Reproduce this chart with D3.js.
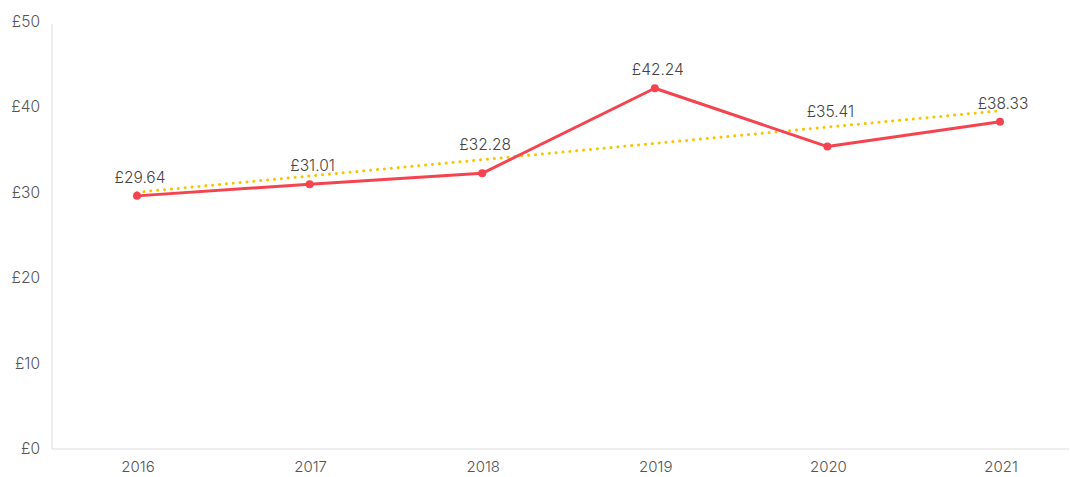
<!DOCTYPE html>
<html>
<head>
<meta charset="utf-8">
<script src="https://cdn.jsdelivr.net/npm/d3@7"></script>
<style>
	body { margin: 0; background: #fff; }
	text { font-family: Inter, "Open Sans", sans-serif; font-weight: 300; }
</style>
</head>
<body>
<div id="chart"></div>
<script>
// Data
const years = ["2016", "2017", "2018", "2019", "2020", "2021"];
const prices = [29.64, 31.01, 32.28, 42.24, 35.41, 38.33];
const trendEnds = [30.06, 39.58]; // trend line read at 2016 and 2021
const yTicks = [0, 10, 20, 30, 40, 50];

const width = 1070,
			height = 477;

const svg = d3.select("#chart").append("svg")
		.attr("width", width)
		.attr("height", height);

const x = d3.scalePoint()
		.domain(years)
		.range([137, 1000]);

const y = d3.scaleLinear()
		.domain([0, 50])
		.range([449, 22]);

// Axes
svg.append("line")
		.attr("x1", 52).attr("x2", 52)
		.attr("y1", y(50) + 2).attr("y2", y(0))
		.attr("stroke", "#ddd");
svg.append("line")
		.attr("x1", 52).attr("x2", 1069)
		.attr("y1", y(0)).attr("y2", y(0))
		.attr("stroke", "#ddd");

svg.append("g")
	.selectAll("text")
	.data(yTicks)
	.enter().append("text")
		.attr("x", 40)
		.attr("y", d => y(d) + 5)
		.attr("text-anchor", "end")
		.attr("fill", "#555")
		.style("font-size", "15.5px")
		.text(d => "£" + d);

svg.append("g")
	.selectAll("text")
	.data(years)
	.enter().append("text")
		.attr("x", d => x(d) + 1)
		.attr("y", 472)
		.attr("text-anchor", "middle")
		.attr("fill", "#555")
		.style("font-size", "15px")
		.text(d => d);

// Trend line
const trendAt = i => trendEnds[0] + (trendEnds[1] - trendEnds[0]) * i / (years.length - 1);
svg.append("line")
		.attr("x1", x(years[0]))
		.attr("y1", y(trendEnds[0]))
		.attr("x2", x(years[years.length - 1]) - 2)
		.attr("y2", y(trendEnds[1]))
		.attr("stroke", "#F7C600")
		.attr("stroke-width", 3)
		.attr("stroke-linecap", "round")
		.attr("stroke-dasharray", "0.1 6.8");

// Price line
const line = d3.line()
		.x((d, i) => x(years[i]))
		.y(d => y(d));

svg.append("path")
		.datum(prices)
		.attr("d", line)
		.attr("fill", "none")
		.attr("stroke", "#F4444F")
		.attr("stroke-width", 3)
		.attr("stroke-linejoin", "round");

svg.append("g")
	.selectAll("circle")
	.data(prices)
	.enter().append("circle")
		.attr("cx", (d, i) => x(years[i]))
		.attr("cy", d => y(d))
		.attr("r", 4)
		.attr("fill", "#F4444F");

// Value labels (lifted above the trend line where it passes well above the point)
svg.append("g")
	.selectAll("text")
	.data(prices)
	.enter().append("text")
		.attr("x", (d, i) => x(years[i]) + 3)
		.attr("y", (d, i) => {
			const gap = y(d) - y(trendAt(i));
			return gap > 11 ? y(trendAt(i)) - 10 : y(d) - 13;
		})
		.attr("text-anchor", "middle")
		.attr("fill", "#444")
		.style("font-size", "15.5px")
		.text(d => "£" + d.toFixed(2));
</script>
</body>
</html>
